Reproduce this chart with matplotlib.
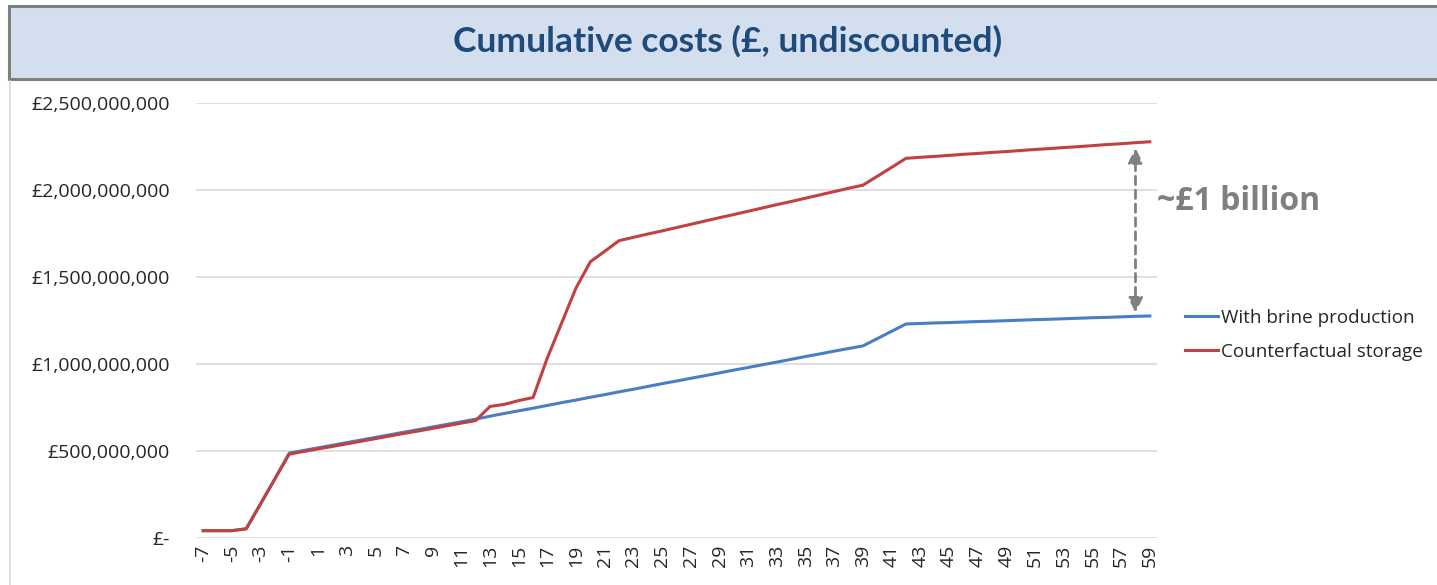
import matplotlib
matplotlib.use("Agg")
import matplotlib.pyplot as plt
from matplotlib.patches import Rectangle
from matplotlib.ticker import FuncFormatter

years = list(range(-7, 60))

brine = [42, 42, 42, 53, 196, 340, 488,
         503, 518, 533, 548, 563, 578, 593, 608, 623, 638, 653, 668, 683,
         700, 716, 731, 746,
         762, 778, 793, 809, 824, 840, 855, 871, 887, 902, 918, 933, 949,
         965, 980, 996, 1011, 1027, 1043, 1058, 1074, 1089, 1104,
         1146, 1188, 1230,
         1233, 1236, 1238, 1241, 1244, 1246, 1249, 1252, 1255, 1257, 1260,
         1263, 1266, 1268, 1271, 1274, 1276]
brine = [v * 1e6 for v in brine]

counter = [42, 42, 42, 53, 196, 340, 482,
           497, 512, 526, 541, 556, 571, 586, 601, 615, 630, 645, 660, 675,
           756, 768, 790, 807,
           1036, 1237, 1438, 1588, 1648, 1709,
           1728, 1747, 1765, 1784, 1803, 1822, 1841, 1859, 1878, 1897, 1916,
           1934, 1953, 1972, 1991, 2010, 2028,
           2079, 2130, 2182,
           2188, 2193, 2199, 2205, 2210, 2216, 2221, 2227, 2233, 2238, 2244,
           2249, 2255, 2261, 2266, 2272, 2277]
counter = [v * 1e6 for v in counter]

series_names = ["With brine production", "Counterfactual storage"]
yticks = [0, 500e6, 1000e6, 1500e6, 2000e6, 2500e6]

W, H = 1437, 585
fig = plt.figure(figsize=(W / 100, H / 100), dpi=100)
fig.patch.set_facecolor("white")

# title box
fig.patches.append(Rectangle((9 / W, (H - 79) / H), 1.2, 73 / H,
                             transform=fig.transFigure, facecolor="#D3DFEE",
                             edgecolor="#7F7F7F", linewidth=2.2))
fig.text(728 / W, (H - 41) / H, "Cumulative costs (£, undiscounted)",
         ha="center", va="center", fontsize=25.5, fontweight="bold",
         color="#1F4A7A", family="Lato")
# chart border line on left
fig.add_artist(plt.Line2D([10 / W, 10 / W], [0, (H - 81) / H],
                          transform=fig.transFigure, color="#D9D9D9", lw=1.2))

ax = fig.add_axes([196 / W, 47 / H, (1157 - 196) / W, (538 - 103) / H])
ax.plot(years, brine, color="#4A7EC4", lw=2.2, label=series_names[0])
ax.plot(years, counter, color="#C0413F", lw=2.2, label=series_names[1])
ax.set_xlim(-7.5, 59.5)
ax.set_ylim(0, 2.5e9)
ax.set_yticks(yticks)
ax.yaxis.set_major_formatter(FuncFormatter(
    lambda v, p: "£-" if v == 0 else "£{:,.0f}".format(v)))
ax.set_xticks([y for y in years if y % 2 != 0])
ax.set_xticklabels([str(y) for y in years if y % 2 != 0], rotation=90)
ax.grid(axis="y", color="#D9D9D9", lw=1.2)
ax.set_axisbelow(True)
for s in ax.spines.values():
    s.set_visible(False)
ax.tick_params(length=0, labelsize=14, colors="#262626")
ax.tick_params(axis="y", pad=19)
ax.tick_params(axis="x", pad=5)
for lab in ax.get_xticklabels() + ax.get_yticklabels():
    lab.set_family("Open Sans")

# annotation arrow
ax.annotate("", xy=(58, counter[-2] - 15e6), xytext=(58, brine[-2] + 5e6),
            arrowprops=dict(arrowstyle="<|-|>", color="#808080", lw=2,
                            linestyle=(0, (3, 2)), mutation_scale=22))
fig.text(1157 / W, (H - 201) / H, "~£1 billion", ha="left", va="center",
         fontsize=23, fontweight="bold", color="#7F7F7F", family="Open Sans")

leg = fig.legend(loc="upper left", bbox_to_anchor=(1168 / W, (H - 292) / H),
                 frameon=False, prop={"family": "Open Sans", "size": 13.6},
                 handlelength=1.75, handletextpad=0.15, labelspacing=0.85)
for t in leg.get_texts():
    t.set_color("#262626")

fig.savefig("out.png", dpi=100)
